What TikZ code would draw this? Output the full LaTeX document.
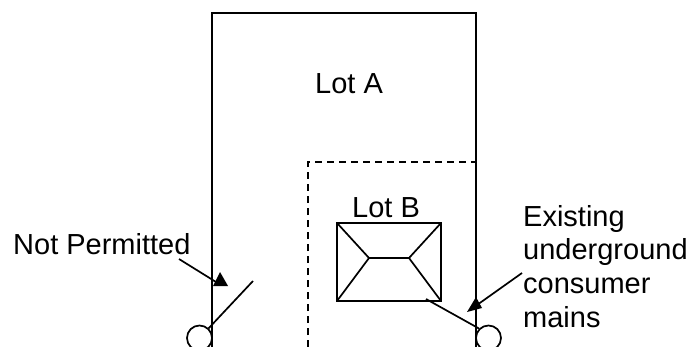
\documentclass[tikz,border=0pt]{standalone}
\usepackage{fontspec}
\setmainfont{Liberation Sans}
\usepackage{tikz}

\begin{document}
\begin{tikzpicture}[
    x=1pt, y=-1pt,
    line/.style={draw, line width=1.7pt},
    label/.style={inner sep=0pt, text=black, anchor=base west, font=\fontsize{29}{33.7}\selectfont, align=left},
    head/.style={fill=black, draw=none},
    mains/.style={circle, draw, line width=1.7pt, fill=none, inner sep=0pt, minimum size=25pt},
    ]
      \useasboundingbox (0,0) rectangle (692,347);
      \clip (0,0) rectangle (692,347);
      % lots
      \coordinate (la) at (212,347);
      \coordinate (lb) at (212,13);
      \coordinate (lc) at (476,13);
      \coordinate (ld) at (476,347);
      \draw [line] (la) -- (lb) -- (lc) -- (ld);
      \coordinate (da) at (308,347);
      \coordinate (db) at (308,162);
      \coordinate (dc) at (476,162);
      \draw [line, dash pattern=on 7pt off 5pt] (da) -- (db) -- (dc);
      % house
      \coordinate (h1) at (337,223);
      \coordinate (h2) at (441,223);
      \coordinate (h3) at (441,301);
      \coordinate (h4) at (337,301);
      \coordinate (r1) at (369,258);
      \coordinate (r2) at (409,258);
      \draw [line] (h1) -- (h2) -- (h3) -- (h4) -- cycle;
      \draw [line] (h1) -- (r1) -- (r2) -- (h2);
      \draw [line] (h4) -- (r1);
      \draw [line] (h3) -- (r2);
      % pits
      \node [mains] (pl) at (199.5,338) {};
      \node [mains] (pr) at (488.5,338) {};
      \coordinate (pa) at (253,281);
      \coordinate (pb) at (426,299);
      \draw [line] (pl) -- (pa);
      \draw [line] (pr.north west) -- (pb);
      % labels
      \node [label] (lota) at (315,94) {Lot A};
      \node [label] (lotb) at (352,218) {Lot B};
      \node [label] (np) at (13,254) {Not Permitted};
      \node [label, anchor=north west] (em) at (523,205) {Existing\\underground\\consumer\\mains};
      % arrows
      \coordinate (ta) at (216,282);
      \coordinate (tb) at (477,305);
      \coordinate (na) at (179,259);
      \coordinate (nb) at (522,273);
      \draw [line] (na) -- (ta);
      \draw [line] (nb) -- (tb);
      \fill [head] (213,286) -- (220,272) -- (228,286) -- cycle;
      \fill [head] (476,297) -- (482,308) -- (467,312) -- cycle;
\end{tikzpicture}
\end{document}
